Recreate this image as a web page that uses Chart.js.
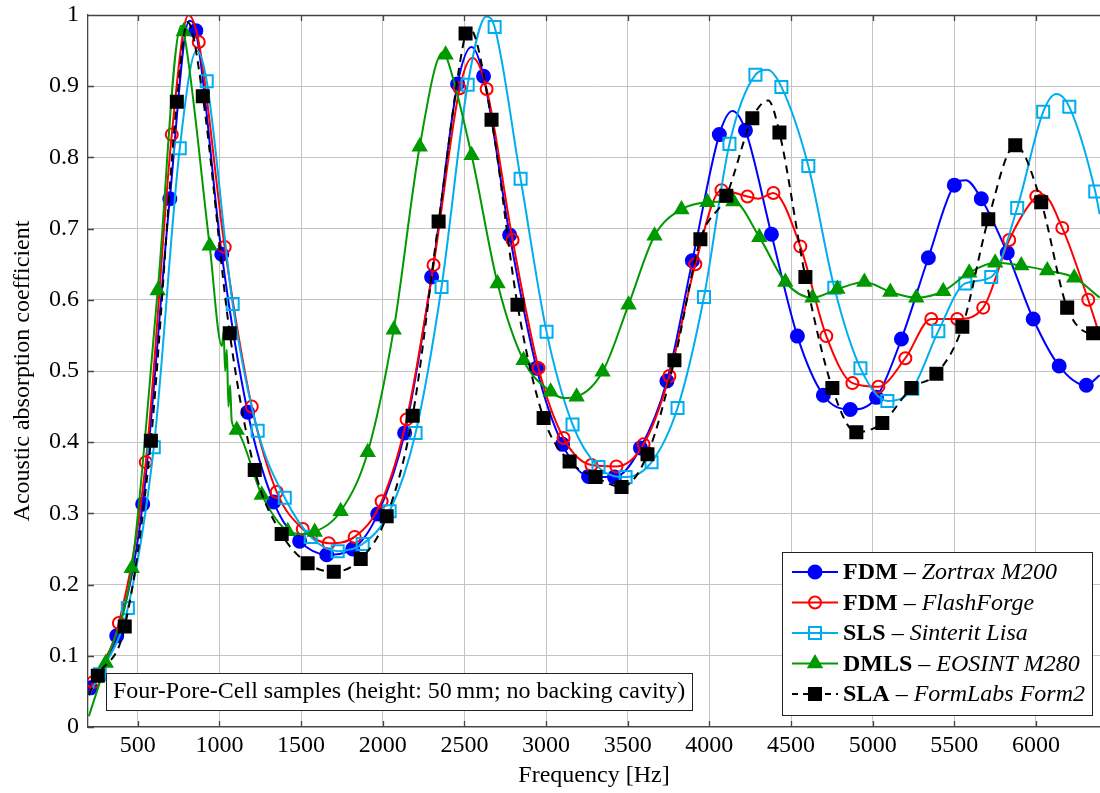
<!DOCTYPE html>
<html lang="en">
<head>
<meta charset="UTF-8">
<title>Acoustic absorption - Four-Pore-Cell samples</title>
<script src="https://cdn.jsdelivr.net/npm/chart.js"></script>
<style>
  body { margin: 0; background: #fff; }
  #wrap { width: 1100px; height: 793px; }
</style>
</head>
<body>
<div id="wrap"><canvas id="chart" width="1100" height="793"></canvas></div>
<script>
  // eixo x (Hz)
  const xTicks = [500, 1000, 1500, 2000, 2500, 3000, 3500, 4000, 4500, 5000, 5500, 6000];

  // legenda
  const seriesKind = ['FDM', 'FDM', 'SLS', 'DMLS', 'SLA'];
  const seriesPrinter = ['Zortrax M200', 'FlashForge', 'Sinterit Lisa', 'EOSINT M280', 'FormLabs Form2'];

  // FDM - Zortrax M200 (pontos com marcador + pontos extra da curva)
  const zortraxFreq = [210, 371, 530, 696, 855, 1014, 1173, 1332, 1491, 1657, 1816, 1969, 2134, 2299, 2458, 2617, 2777, 2942, 3101, 3260, 3419, 3578, 3740, 3896, 4061, 4221, 4380, 4539, 4698, 4863, 5023, 5176, 5341, 5500, 5665, 5824, 5983, 6142, 6308];
  const zortraxAbs = [0.055, 0.128, 0.313, 0.742, 0.978, 0.664, 0.442, 0.316, 0.261, 0.242, 0.250, 0.299, 0.413, 0.632, 0.903, 0.914, 0.691, 0.504, 0.397, 0.352, 0.351, 0.392, 0.486, 0.655, 0.832, 0.838, 0.692, 0.549, 0.466, 0.446, 0.463, 0.545, 0.659, 0.761, 0.742, 0.666, 0.573, 0.507, 0.480];
  const zortraxExtraFreq = [200, 815, 2544, 4141, 5570, 6390];
  const zortraxExtraAbs = [0.045, 0.992, 0.955, 0.865, 0.768, 0.494];

  // FDM - FlashForge
  const flashFreq = [226, 384, 549, 708, 873, 1032, 1198, 1351, 1510, 1669, 1828, 1993, 2146, 2311, 2471, 2636, 2795, 2954, 3107, 3278, 3431, 3597, 3755, 3914, 4074, 4233, 4392, 4557, 4716, 4876, 5035, 5200, 5359, 5518, 5677, 5836, 6002, 6161, 6320];
  const flashAbs = [0.063, 0.146, 0.372, 0.832, 0.962, 0.674, 0.450, 0.330, 0.278, 0.258, 0.267, 0.317, 0.432, 0.649, 0.897, 0.896, 0.684, 0.504, 0.406, 0.368, 0.366, 0.397, 0.493, 0.650, 0.754, 0.745, 0.750, 0.675, 0.549, 0.483, 0.478, 0.518, 0.573, 0.573, 0.589, 0.684, 0.745, 0.701, 0.600];
  const flashExtraFreq = [200, 810, 2550, 4300, 6040, 6390];
  const flashExtraAbs = [0.045, 1.0, 0.94, 0.742, 0.748, 0.55];

  // SLS - Sinterit Lisa
  const lisaFreq = [267, 439, 598, 757, 922, 1081, 1234, 1400, 1559, 1724, 1877, 2042, 2201, 2360, 2520, 2685, 2844, 3003, 3162, 3321, 3487, 3646, 3805, 3967, 4123, 4282, 4441, 4606, 4765, 4925, 5090, 5243, 5402, 5567, 5726, 5885, 6044, 6204, 6363];
  const lisaAbs = [0.074, 0.167, 0.393, 0.813, 0.907, 0.594, 0.416, 0.322, 0.267, 0.247, 0.257, 0.303, 0.413, 0.618, 0.902, 0.983, 0.770, 0.555, 0.425, 0.365, 0.351, 0.372, 0.448, 0.604, 0.819, 0.916, 0.899, 0.788, 0.617, 0.504, 0.458, 0.475, 0.556, 0.623, 0.632, 0.729, 0.864, 0.871, 0.752];
  const lisaExtraFreq = [200, 861, 2635, 4355, 6125, 6390];
  const lisaExtraAbs = [0.045, 0.95, 0.998, 0.923, 0.889, 0.72];

  // DMLS - EOSINT M280
  const eosintFreq = [304, 463, 622, 781, 940, 1106, 1259, 1418, 1583, 1742, 1908, 2067, 2226, 2385, 2544, 2703, 2862, 3028, 3187, 3346, 3505, 3664, 3829, 3988, 4147, 4306, 4465, 4631, 4784, 4949, 5108, 5267, 5432, 5591, 5750, 5910, 6069, 6234];
  const eosintAbs = [0.090, 0.223, 0.613, 0.977, 0.676, 0.417, 0.326, 0.275, 0.274, 0.303, 0.386, 0.558, 0.815, 0.944, 0.803, 0.623, 0.515, 0.471, 0.464, 0.499, 0.593, 0.690, 0.727, 0.737, 0.738, 0.688, 0.625, 0.603, 0.615, 0.625, 0.611, 0.603, 0.612, 0.638, 0.652, 0.648, 0.641, 0.631];
  const eosintExtraFreq = [200, 765, 1015, 1025, 1035, 1045, 1055, 1065, 1075, 1500, 2370, 3110, 6390];
  const eosintExtraAbs = [0.015, 0.985, 0.535, 0.555, 0.50, 0.53, 0.45, 0.48, 0.43, 0.271, 0.948, 0.462, 0.603];

  // SLA - FormLabs Form2
  const form2Freq = [255, 420, 580, 739, 898, 1063, 1216, 1381, 1540, 1700, 1865, 2024, 2183, 2342, 2507, 2666, 2825, 2985, 3144, 3303, 3462, 3621, 3786, 3945, 4104, 4263, 4429, 4588, 4753, 4900, 5059, 5237, 5390, 5549, 5708, 5873, 6032, 6191, 6350];
  const form2Abs = [0.072, 0.141, 0.402, 0.878, 0.886, 0.553, 0.361, 0.271, 0.230, 0.218, 0.236, 0.296, 0.437, 0.710, 0.974, 0.853, 0.593, 0.434, 0.373, 0.351, 0.337, 0.383, 0.515, 0.685, 0.746, 0.855, 0.835, 0.632, 0.476, 0.414, 0.427, 0.476, 0.496, 0.562, 0.713, 0.817, 0.737, 0.589, 0.553];
  const form2ExtraFreq = [200, 805, 2530, 4360, 6390];
  const form2ExtraAbs = [0.045, 0.99, 0.982, 0.88, 0.556];

  Chart.defaults.font.family = '"Liberation Serif", "Times New Roman", serif';
  Chart.defaults.font.size = 24;
  Chart.defaults.color = '#000';

  // junta marcadores e pontos extra, ordenado por frequencia
  function juntar(freq, abs, extraFreq, extraAbs) {
    const pts = [];
    for (let i = 0; i < freq.length; i++) pts.push({ x: freq[i], y: abs[i], m: true });
    for (let i = 0; i < extraFreq.length; i++) pts.push({ x: extraFreq[i], y: extraAbs[i], m: false });
    pts.sort((a, b) => a.x - b.x);
    return pts;
  }

  function serie(label, pts, cor, estilo, raio, preench, dash, ordem) {
    return {
      label: label,
      data: pts,
      borderColor: cor,
      borderWidth: 2,
      borderDash: dash,
      cubicInterpolationMode: 'monotone',
      fill: false,
      order: ordem,
      pointStyle: estilo,
      pointRadius: c => (c.raw && c.raw.m) ? raio : 0,
      pointHoverRadius: 0,
      pointBackgroundColor: preench,
      pointBorderColor: cor,
      pointBorderWidth: 2
    };
  }

  const cores = ['#0000ff', '#ff0000', '#00aeef', '#009900', '#000000'];
  const estilos = [
    { s: 'circle', r: 6.5, f: '#0000ff', d: [] },
    { s: 'circle', r: 6, f: 'rgba(0,0,0,0)', d: [] },
    { s: 'rect', r: 8.5, f: 'rgba(0,0,0,0)', d: [] },
    { s: 'triangle', r: 7.5, f: '#009900', d: [] },
    { s: 'rect', r: 8.5, f: '#000000', d: [8, 6] }
  ];

  const pontos = [
    juntar(zortraxFreq, zortraxAbs, zortraxExtraFreq, zortraxExtraAbs),
    juntar(flashFreq, flashAbs, flashExtraFreq, flashExtraAbs),
    juntar(lisaFreq, lisaAbs, lisaExtraFreq, lisaExtraAbs),
    juntar(eosintFreq, eosintAbs, eosintExtraFreq, eosintExtraAbs),
    juntar(form2Freq, form2Abs, form2ExtraFreq, form2ExtraAbs)
  ];

  const datasets = pontos.map((p, i) =>
    serie(seriesKind[i] + ' - ' + seriesPrinter[i], p, cores[i], estilos[i].s, estilos[i].r, estilos[i].f, estilos[i].d, 5 - i));

  // eixos estilo pgfplots: borda de cima, tracinhos internos
  const eixosPlugin = {
    id: 'eixos',
    afterDatasetsDraw(chart) {
      const ctx = chart.ctx;
      const a = chart.chartArea;
      const xs = chart.scales.x, ys = chart.scales.y;
      ctx.save();
      ctx.strokeStyle = '#444';
      ctx.lineWidth = 1.3;
      ctx.beginPath();
      ctx.moveTo(a.left, a.top + 0.5);
      ctx.lineTo(a.right, a.top + 0.5);
      xTicks.forEach(v => {
        const px = Math.round(xs.getPixelForValue(v)) + 0.5;
        ctx.moveTo(px, a.bottom); ctx.lineTo(px, a.bottom - 6);
        ctx.moveTo(px, a.top); ctx.lineTo(px, a.top + 6);
      });
      ys.ticks.forEach(t => {
        const py = Math.round(ys.getPixelForValue(t.value)) + 0.5;
        ctx.moveTo(a.left, py); ctx.lineTo(a.left + 6, py);
      });
      ctx.stroke();
      ctx.restore();
    }
  };

  // legenda com negrito/italico e caixa de anotacao
  const legendaPlugin = {
    id: 'legenda',
    afterDraw(chart) {
      const ctx = chart.ctx;
      const fam = Chart.defaults.font.family;
      ctx.save();

      // caixa da anotacao
      ctx.fillStyle = '#fff';
      ctx.fillRect(106, 673, 586, 37);
      ctx.strokeStyle = '#222';
      ctx.lineWidth = 1;
      ctx.strokeRect(106.5, 673.5, 586, 37);
      ctx.fillStyle = '#000';
      ctx.textBaseline = 'middle';
      ctx.font = '24px ' + fam;
      ctx.fillText('Four-Pore-Cell samples (height: 50\u2009mm; no backing cavity)', 113, 692);

      // caixa da legenda
      ctx.fillStyle = '#fff';
      ctx.fillRect(782, 552, 310, 163);
      ctx.strokeStyle = '#222';
      ctx.strokeRect(782.5, 552.5, 310, 163);

      for (let i = 0; i < seriesKind.length; i++) {
        const y = 572 + i * 30.5;
        ctx.strokeStyle = cores[i];
        ctx.lineWidth = 2;
        ctx.setLineDash(estilos[i].d.length ? [6, 5] : []);
        ctx.beginPath();
        ctx.moveTo(792, y); ctx.lineTo(838, y);
        ctx.stroke();
        ctx.setLineDash([]);
        ctx.fillStyle = estilos[i].f;
        Chart.helpers.drawPoint(ctx, { pointStyle: estilos[i].s, radius: estilos[i].r, borderWidth: 2, rotation: 0 }, 815, y);

        ctx.fillStyle = '#000';
        let x = 843;
        ctx.font = 'bold 24px ' + fam;
        ctx.fillText(seriesKind[i], x, y + 1);
        x += ctx.measureText(seriesKind[i]).width;
        ctx.font = '24px ' + fam;
        ctx.fillText(' \u2013 ', x, y + 1);
        x += ctx.measureText(' \u2013 ').width;
        ctx.font = 'italic 24px ' + fam;
        ctx.fillText(seriesPrinter[i], x, y + 1);
      }
      ctx.restore();
    }
  };

  const config = {
    type: 'line',
    data: { datasets: datasets },
    options: {
      responsive: false,
      animation: false,
      devicePixelRatio: 1,
      layout: { padding: { top: 15, right: 0, left: 0, bottom: 0 } },
      plugins: { legend: { display: false }, tooltip: { enabled: false } },
      scales: {
        x: {
          type: 'linear',
          min: 195,
          max: 6392,
          afterBuildTicks: s => { s.ticks = xTicks.map(v => ({ value: v })); },
          afterFit: s => { s.height = 66; s.paddingLeft = 0; s.paddingRight = 0; },
          ticks: { padding: 4, maxRotation: 0, autoSkip: false, callback: v => String(v) },
          grid: { color: '#c4c4c4', lineWidth: 1, drawTicks: false },
          border: { color: '#444', width: 1.3 },
          title: { display: true, text: 'Frequency [Hz]', padding: { bottom: 3, top: 0 } }
        },
        y: {
          min: 0,
          max: 1,
          afterFit: s => { s.width = 88; s.paddingTop = 0; s.paddingBottom = 0; },
          ticks: { stepSize: 0.1, padding: 9, callback: v => String(Math.round(v * 10) / 10) },
          grid: { color: '#c4c4c4', lineWidth: 1, drawTicks: false },
          border: { color: '#444', width: 1.3 },
          title: { display: true, text: 'Acoustic absorption coefficient', padding: { top: 8, bottom: 0 } }
        }
      }
    },
    plugins: [eixosPlugin, legendaPlugin]
  };

  const grafico = new Chart(document.getElementById('chart'), config);
</script>
</body>
</html>
